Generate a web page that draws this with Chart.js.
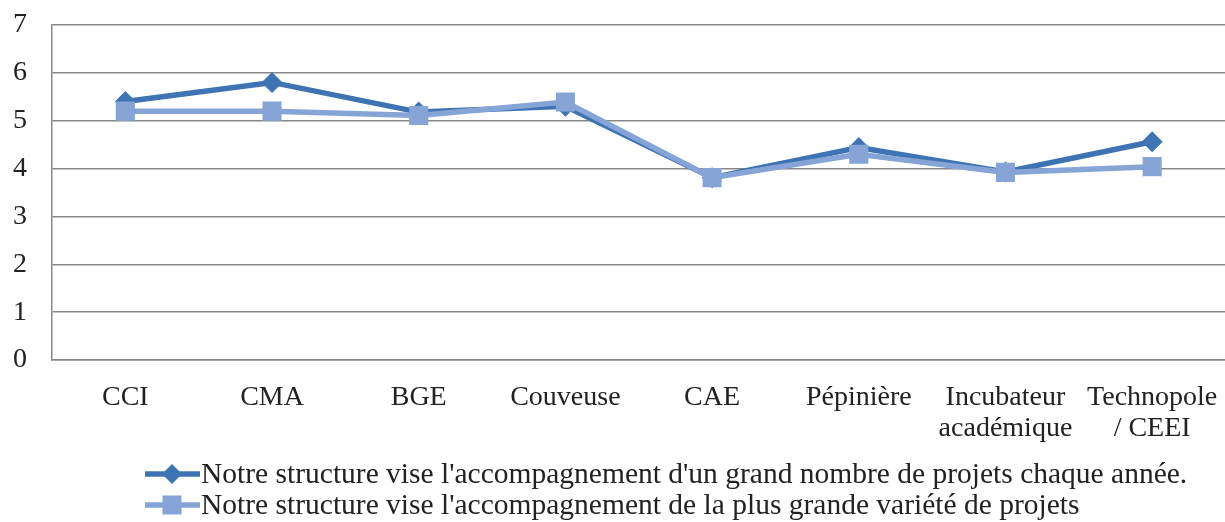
<!DOCTYPE html>
<html>
<head>
<meta charset="utf-8">
<script src="https://cdn.jsdelivr.net/npm/chart.js@4/dist/chart.umd.min.js"></script>
<style>
  html, body { margin: 0; padding: 0; background: #fff; overflow: hidden; }
  /* a little wider than the window so the point overflow padding falls off-screen */
  #wrap { width: 1239px; height: 522px; position: relative; }
</style>
</head>
<body>
<div id="wrap"><canvas id="chart"></canvas></div>
<script>
// categories (x axis)
var categories = ["CCI", "CMA", "BGE", "Couveuse", "CAE", "Pépinière",
                  ["Incubateur", "académique"], ["Technopole", "/ CEEI"]];
// series values
var nombreProjets = [5.4, 5.8, 5.18, 5.3, 3.81, 4.44, 3.93, 4.56];
var varieteProjets = [5.2, 5.2, 5.11, 5.39, 3.81, 4.3, 3.92, 4.04];
var seriesNames = [
  "Notre structure vise l'accompagnement d'un grand nombre de projets chaque année.",
  "Notre structure vise l'accompagnement de la plus grande variété de projets"
];
var yTicks = [0, 1, 2, 3, 4, 5, 6, 7];

var serif = "'Liberation Serif', 'Times New Roman', serif";
var darkBlue = "#3e74b4";
var lightBlue = "#86a5d6";

// Legend drawn by hand so both rows start at the same x
var leftLegend = {
  id: "leftLegend",
  afterDraw: function (chart) {
    var ctx = chart.ctx;
    chart.data.datasets.forEach(function (ds, i) {
      var y = 474 + i * 31;
      ctx.save();
      ctx.strokeStyle = ds.borderColor;
      ctx.lineWidth = ds.borderWidth;
      ctx.beginPath();
      ctx.moveTo(145, y);
      ctx.lineTo(200, y);
      ctx.stroke();
      ctx.fillStyle = ds.pointBackgroundColor;
      ctx.beginPath();
      if (ds.pointStyle === "rectRot") {
        ctx.moveTo(172, y - 10);
        ctx.lineTo(182, y);
        ctx.lineTo(172, y + 10);
        ctx.lineTo(162, y);
      } else {
        ctx.rect(172 - 9.5, y - 9.5, 19, 19);
      }
      ctx.closePath();
      ctx.fill();
      ctx.fillStyle = "#222";
      ctx.font = "29.5px " + serif;
      ctx.textBaseline = "middle";
      ctx.fillText(ds.label, 201, y + 1);
      ctx.restore();
    });
  }
};

var ctx = document.getElementById("chart").getContext("2d");
var myLineChart = new Chart(ctx, {
  type: "line",
  data: {
    labels: categories,
    datasets: [
      {
        label: seriesNames[0],
        data: nombreProjets,
        borderColor: darkBlue,
        backgroundColor: darkBlue,
        pointBackgroundColor: darkBlue,
        pointBorderColor: darkBlue,
        borderWidth: 5.5,
        pointStyle: "rectRot",
        pointRadius: 10.5,
        pointBorderWidth: 0,
        order: 1
      },
      {
        label: seriesNames[1],
        data: varieteProjets,
        borderColor: lightBlue,
        backgroundColor: lightBlue,
        pointBackgroundColor: lightBlue,
        pointBorderColor: lightBlue,
        borderWidth: 5.5,
        pointStyle: "rect",
        pointRadius: 13.5,
        pointBorderWidth: 0,
        order: 0
      }
    ]
  },
  options: {
    responsive: true,
    maintainAspectRatio: false,
    animation: false,
    layout: { padding: { top: 25, right: 0, bottom: 0, left: 0 } },
    plugins: {
      legend: { display: false },
      tooltip: { enabled: false }
    },
    scales: {
      x: {
        offset: true,
        grid: { display: false },
        border: { display: true, color: "#888", width: 1.5 },
        ticks: {
          color: "#222",
          font: { family: serif, size: 28, lineHeight: 1.12 },
          maxRotation: 0,
          autoSkip: false,
          padding: 14
        },
        afterFit: function (scale) {
          scale.height = 162;
          scale.paddingLeft = 0;
          scale.paddingRight = 0;
        }
      },
      y: {
        min: 0,
        max: 7,
        afterBuildTicks: function (scale) {
          scale.ticks = yTicks.map(function (v) { return { value: v }; });
        },
        grid: { color: "#888", lineWidth: 1.5, drawTicks: false },
        border: { display: true, color: "#888", width: 1.5 },
        ticks: {
          color: "#222",
          font: { family: serif, size: 28 },
          padding: 25
        },
        afterFit: function (scale) {
          scale.width = 52;
          scale.paddingTop = 0;
          scale.paddingBottom = 0;
        }
      }
    }
  },
  plugins: [leftLegend]
});
</script>
</body>
</html>
